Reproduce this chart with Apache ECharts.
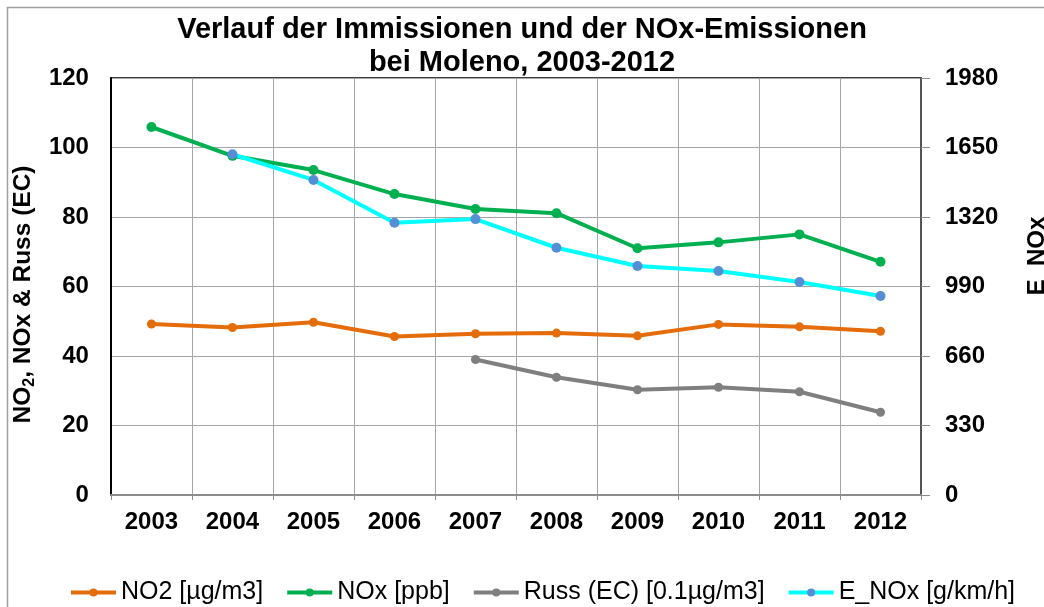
<!DOCTYPE html>
<html>
<head>
<meta charset="utf-8">
<script src="https://cdn.jsdelivr.net/npm/echarts@6/dist/echarts.min.js"></script>
<style>
html,body{margin:0;padding:0;background:#fff;}
#c{width:1044px;height:607px;}
</style>
</head>
<body>
<div id="c"></div>
<script>
var categories = ['2003','2004','2005','2006','2007','2008','2009','2010','2011','2012'];
var no2  = [49.2, 48.2, 49.7, 45.6, 46.4, 46.6, 45.8, 49.1, 48.4, 47.1];
var nox  = [105.9, 97.6, 93.5, 86.6, 82.3, 81.1, 71.0, 72.7, 75.0, 67.1];
var russ = [null, null, null, null, 39.0, 33.9, 30.3, 31.0, 29.7, 23.8];
var enox = [null, 1618, 1496, 1293, 1310, 1174, 1087, 1064, 1011, 945];
var leftTicks = {min: 0, max: 120, interval: 20};
var rightTicks = {min: 0, max: 1980, interval: 330};
var seriesNames = ['NO2 [µg/m3]', 'NOx [ppb]', 'Russ (EC) [0.1µg/m3]', 'E_NOx [g/km/h]'];

var FONT = '"Liberation Sans", Arial, sans-serif';
var chart = echarts.init(document.getElementById('c'), null, {renderer: 'canvas'});

function lineSeries(name, data, color, symColor, yIdx, size) {
  return {
    name: name, type: 'line', data: data, yAxisIndex: yIdx,
    symbol: 'circle', symbolSize: size, showSymbol: true,
    connectNulls: false,
    lineStyle: {color: color, width: 4},
    itemStyle: {color: symColor},
    emphasis: {disabled: true},
    animation: false
  };
}

chart.setOption({
  animation: false,
  backgroundColor: '#fff',
  textStyle: {fontFamily: FONT},
  title: {
    text: 'Verlauf der Immissionen und der NOx-Emissionen\nbei Moleno, 2003-2012',
    left: 'center', top: 13, padding: [0, 0, 0, 10],
    textStyle: {fontFamily: FONT, fontSize: 29, fontWeight: 'bold', color: '#000', lineHeight: 33, align: 'center'}
  },
  graphic: [
    {type: 'rect', shape: {x: 7.5, y: 7.5, width: 1100, height: 700}, style: {fill: null, stroke: '#a0a0a0', lineWidth: 1.5}, silent: true, z: -1},
    {type: 'text', x: 1037, y: 256, rotation: Math.PI / 2,
     style: {text: 'E_NOx', fill: '#000', font: 'bold 24px "Liberation Sans", Arial, sans-serif', textAlign: 'center', textVerticalAlign: 'middle'}}
  ],
  grid: {left: 110, right: 123, top: 78, bottom: 112, show: true, borderColor: '#000', borderWidth: 1.5, backgroundColor: 'transparent'},
  legend: {
    data: seriesNames,
    left: 64, top: 575,
    itemWidth: 45, itemHeight: 10, itemGap: 22,
    lineStyle: {width: 4},
    textStyle: {fontFamily: FONT, fontSize: 25, color: '#000', fontWeight: 500},
    selectedMode: false
  },
  xAxis: {
    type: 'category', data: categories, boundaryGap: true,
    axisLine: {show: true, lineStyle: {color: '#8c8c8c', width: 2}},
    axisTick: {show: true, interval: 0, length: 5, lineStyle: {color: '#8c8c8c'}},
    splitLine: {show: true, interval: 0, lineStyle: {color: '#a6a6a6', width: 1}},
    axisLabel: {interval: 0, margin: 15, fontFamily: FONT, fontSize: 24, fontWeight: 'bold', color: '#000'}
  },
  yAxis: [
    {
      type: 'value', position: 'left',
      min: leftTicks.min, max: leftTicks.max, interval: leftTicks.interval,
      axisLine: {show: true, lineStyle: {color: '#000', width: 2}},
      axisTick: {show: false},
      splitLine: {show: true, lineStyle: {color: '#a6a6a6', width: 1}},
      axisLabel: {margin: 22, fontFamily: FONT, fontSize: 24, fontWeight: 'bold', color: '#000'},
      name: '{n|NO}{s|2}{n|, NOx & Russ (EC)}',
      nameLocation: 'middle', nameRotate: 90, nameGap: 66,
      nameTextStyle: {
        padding: [0, 16, 0, 0],
        rich: {
          n: {fontFamily: FONT, fontSize: 24.5, fontWeight: 'bold', color: '#000', lineHeight: 28, verticalAlign: 'middle'},
          s: {fontFamily: FONT, fontSize: 16, fontWeight: 'bold', color: '#000', lineHeight: 16, padding: [14, 0, 0, 0], verticalAlign: 'middle'}
        }
      }
    },
    {
      type: 'value', position: 'right',
      min: rightTicks.min, max: rightTicks.max, interval: rightTicks.interval,
      axisLine: {show: true, lineStyle: {color: '#555', width: 2}},
      axisTick: {show: true, length: 9, lineStyle: {color: '#8c8c8c'}},
      splitLine: {show: false},
      axisLabel: {margin: 24, fontFamily: FONT, fontSize: 24, fontWeight: 'bold', color: '#000',
        formatter: function (v) { return String(v); }}
    }
  ],
  series: [
    lineSeries(seriesNames[0], no2, '#E46C0A', '#E46C0A', 0, 9),
    lineSeries(seriesNames[1], nox, '#00B050', '#00B050', 0, 10),
    lineSeries(seriesNames[2], russ, '#7F7F7F', '#7F7F7F', 0, 9),
    lineSeries(seriesNames[3], enox, '#00FFFF', '#558ED5', 1, 10)
  ]
});
</script>
</body>
</html>
